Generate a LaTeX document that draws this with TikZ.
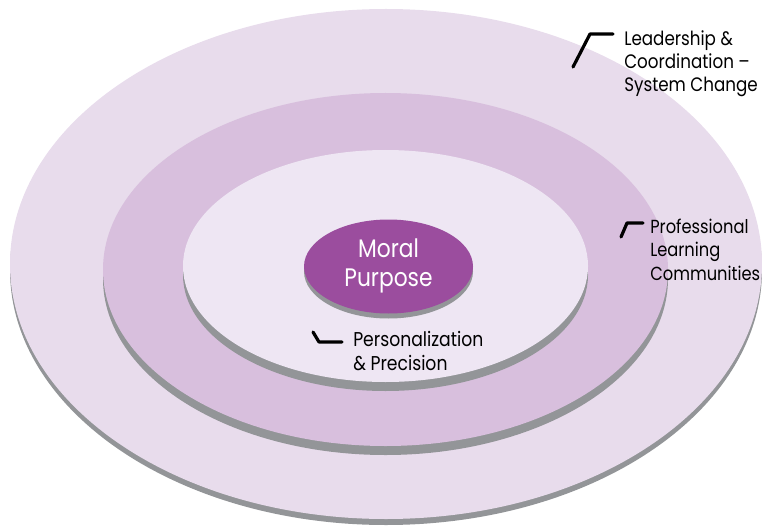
\documentclass[tikz,border=0pt]{standalone}
\usepackage{fontspec}
\setmainfont{Poppins}
\newfontfamily\ringfont{Poppins}[FakeStretch=0.86]
\usepackage{tikz}
\usetikzlibrary{positioning}

\definecolor{outerring}{RGB}{232,220,236}
\definecolor{middlering}{RGB}{216,191,221}
\definecolor{innerring}{RGB}{238,230,243}
\definecolor{moralpurple}{RGB}{155,77,158}
\definecolor{ringshadow}{RGB}{147,149,152}

\begin{document}
\begin{tikzpicture}[x=0.75pt, y=0.75pt,
    ring label/.style={align=left, anchor=base west, inner sep=0pt,
      font=\ringfont\fontsize{15}{17.6}\selectfont},
    callout/.style={line width=2.4pt, line cap=round, line join=round}]
    \useasboundingbox (0,0) rectangle (762,529);

    % draw rings, each with its grey shadow below
    \fill[ringshadow] (386,259) ellipse [x radius=376, y radius=255];
    \fill[outerring] (386,265) ellipse [x radius=376, y radius=255];

    \fill[ringshadow] (385.5,250.5) ellipse [x radius=282.5, y radius=176.5];
    \fill[middlering] (385.5,259.5) ellipse [x radius=282.5, y radius=176.5];

    \fill[ringshadow] (385.5,254) ellipse [x radius=202.5, y radius=116];
    \fill[innerring] (385.5,263) ellipse [x radius=202.5, y radius=116];

    % draw moral purpose core
    \fill[ringshadow] (388.5,257.5) ellipse [x radius=84.5, y radius=47];
    \fill[moralpurple] (388.5,262.5) ellipse [x radius=84.5, y radius=47];
    \node[align=center, text=white, font=\ringfont\fontsize{19}{21.8}\selectfont]
      (moral) at (388.5,263) {Moral\\Purpose};

    % draw labels
    \node[ring label, font=\ringfont\fontsize{14.6}{17.6}\selectfont]
      (leadership) at (624,437) {Leadership \&\\Coordination –\\System Change};
    \node[ring label, font=\ringfont\fontsize{14.2}{17.6}\selectfont]
      (plc) at (650,249) {Professional\\Learning\\Communities};
    \node[ring label] (personal) at (353,159) {Personalization\\\& Precision};

    % draw callout marks
    \draw[callout] (573,462) -- (590,495) -- (613,495);
    \draw[callout] (621,292) -- (627,306) -- (643,306);
    \draw[callout] (313,197) -- (319,187) -- (342,187);
\end{tikzpicture}
\end{document}
